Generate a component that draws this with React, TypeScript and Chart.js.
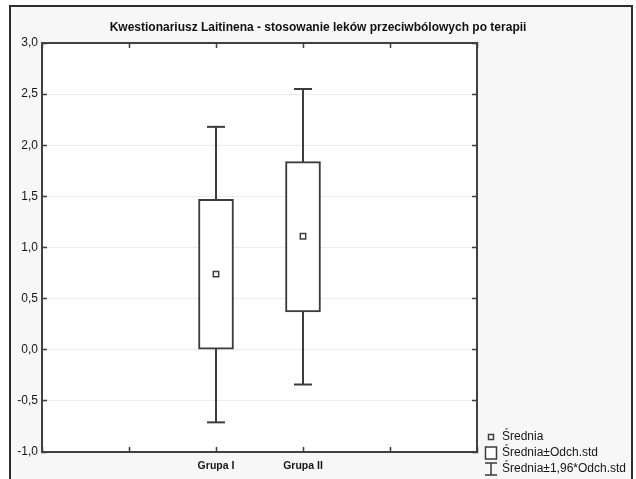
import React, { useEffect, useRef } from "react";
import { Chart, registerables } from "chart.js";

Chart.register(...registerables);

// Groups and their summary statistics (mean, mean ± SD, mean ± 1.96·SD)
const groups = ["Grupa I", "Grupa II"];
const means = [0.74, 1.11];
const sdLow = [0.0, 0.37];
const sdHigh = [1.47, 1.84];
const ciLow = [-0.71, -0.34];
const ciHigh = [2.18, 2.55];

// Category slots along the x axis: two empty slots on each side of the groups
const xSlots = ["", "", ...groups, "", ""];

const yMin = -1;
const yMax = 3;
const yStep = 0.5;

const titleText =
  "Kwestionariusz Laitinena - stosowanie leków przeciwbólowych po terapii";
const legendLabels = ["Średnia", "Średnia±Odch.std", "Średnia±1,96*Odch.std"];

const FONT = "'Liberation Sans', Arial, Helvetica, sans-serif";
const INK = "#3c3c3c";
const FRAME = "#404040";

const fmt = (v: number) => v.toFixed(1).replace(".", ",");

// White plot area on the grey panel
const plotBackground = {
  id: "plotBackground",
  beforeDraw(chart: any) {
    const { ctx, chartArea: a } = chart;
    ctx.save();
    ctx.fillStyle = "#ffffff";
    ctx.fillRect(a.left, a.top, a.right - a.left, a.bottom - a.top);
    ctx.restore();
  },
};

// Statistica-style legend in the lower right corner
const sideLegend = {
  id: "sideLegend",
  afterDraw(chart: any) {
    const { ctx, chartArea: a } = chart;
    const symX = a.right + 14;
    const textX = a.right + 25;
    const rows = [a.bottom - 15, a.bottom + 1, a.bottom + 17];
    ctx.save();
    ctx.strokeStyle = INK;
    ctx.fillStyle = "#ffffff";

    // mean marker
    ctx.lineWidth = 1.5;
    ctx.beginPath();
    ctx.rect(symX - 2.5, rows[0] - 2.5, 5, 5);
    ctx.fill();
    ctx.stroke();

    // box
    ctx.lineWidth = 1.5;
    ctx.beginPath();
    ctx.rect(symX - 5.5, rows[1] - 6, 11, 12);
    ctx.fill();
    ctx.stroke();

    // whisker
    ctx.beginPath();
    ctx.moveTo(symX - 6, rows[2] - 6);
    ctx.lineTo(symX + 6, rows[2] - 6);
    ctx.moveTo(symX, rows[2] - 6);
    ctx.lineTo(symX, rows[2] + 6);
    ctx.moveTo(symX - 6, rows[2] + 6);
    ctx.lineTo(symX + 6, rows[2] + 6);
    ctx.stroke();

    ctx.fillStyle = "#151515";
    ctx.font = `12px ${FONT}`;
    ctx.textBaseline = "middle";
    ctx.textAlign = "left";
    legendLabels.forEach((t, i) => ctx.fillText(t, textX, rows[i]));
    ctx.restore();
  },
};

export default function App() {
  const canvasRef = useRef<HTMLCanvasElement | null>(null);

  useEffect(() => {
    if (!canvasRef.current) return;

    const whiskerSets = groups.map((g, i) => ({
      type: "line" as const,
      data: [
        { x: g, y: ciLow[i] },
        { x: g, y: ciHigh[i] },
      ],
      borderColor: INK,
      borderWidth: 2,
      pointStyle: "line" as const,
      pointRadius: 9,
      pointHoverRadius: 9,
      pointBorderWidth: 2,
      pointBorderColor: INK,
      order: 3,
    }));

    const boxData = xSlots.map((s) => {
      const i = groups.indexOf(s);
      return i >= 0 && s !== "" ? [sdLow[i], sdHigh[i]] : null;
    });

    const chart = new Chart(canvasRef.current, {
      type: "bar",
      data: {
        labels: xSlots,
        datasets: [
          ...whiskerSets,
          {
            type: "bar" as const,
            data: boxData as any,
            backgroundColor: "#ffffff",
            borderColor: INK,
            borderWidth: 2,
            borderSkipped: false,
            barThickness: 35,
            order: 2,
          },
          {
            type: "line" as const,
            data: groups.map((g, i) => ({ x: g, y: means[i] })),
            showLine: false,
            pointStyle: "rect" as const,
            pointRadius: 3.8,
            pointHoverRadius: 3.8,
            pointBackgroundColor: "#ffffff",
            pointBorderColor: INK,
            pointBorderWidth: 1.5,
            order: 1,
          },
        ] as any,
      },
      options: {
        responsive: false,
        animation: false,
        events: [],
        layout: { padding: 0 },
        plugins: {
          legend: { display: false },
          tooltip: { enabled: false },
          title: {
            display: true,
            text: titleText,
            color: "#111111",
            font: { family: FONT, size: 12, weight: "bold" },
            padding: { top: 20, bottom: 8.6 },
          },
        },
        scales: {
          x: {
            type: "category",
            position: "bottom",
            offset: false,
            grid: {
              offset: false,
              drawOnChartArea: false,
              drawTicks: true,
              tickLength: -5,
              tickColor: INK,
              tickWidth: 1.5,
            },
            border: { display: true, color: FRAME, width: 2 },
            ticks: {
              autoSkip: false,
              maxRotation: 0,
              padding: 13,
              color: "#151515",
              font: { family: FONT, size: 10.5, weight: "bold" },
            },
            afterFit: (s: any) => {
              s.height = 27;
            },
          },
          xTop: {
            type: "category",
            position: "top",
            offset: false,
            grid: {
              offset: false,
              drawOnChartArea: false,
              drawTicks: true,
              tickLength: -5,
              tickColor: INK,
              tickWidth: 1.5,
            },
            border: { display: true, color: FRAME, width: 2 },
            ticks: { display: false },
            afterFit: (s: any) => {
              s.height = 0;
            },
          },
          y: {
            type: "linear",
            position: "left",
            min: yMin,
            max: yMax,
            grid: {
              color: "#ececec",
              lineWidth: 1,
              drawTicks: true,
              tickLength: -5,
              tickColor: INK,
              tickWidth: 1.5,
            },
            border: { display: true, color: FRAME, width: 2 },
            ticks: {
              stepSize: yStep,
              padding: 9,
              color: "#151515",
              font: { family: FONT, size: 12 },
              callback: (v: any) => fmt(Number(v)),
            },
            afterFit: (s: any) => {
              s.width = 42;
            },
          },
          yRight: {
            type: "linear",
            position: "right",
            min: yMin,
            max: yMax,
            grid: {
              drawOnChartArea: false,
              drawTicks: true,
              tickLength: -5,
              tickColor: INK,
              tickWidth: 1.5,
            },
            border: { display: true, color: FRAME, width: 2 },
            ticks: { display: false, stepSize: yStep },
            afterFit: (s: any) => {
              s.width = 159;
            },
          },
        },
      } as any,
      plugins: [plotBackground, sideLegend],
    });

    return () => chart.destroy();
  }, []);

  return (
    <div
      style={{
        position: "absolute",
        left: 0,
        top: 0,
        width: 636,
        height: 479,
        overflow: "hidden",
        background: "#ffffff",
      }}
    >
      <div
        style={{
          position: "absolute",
          left: 9,
          top: 5,
          width: 624,
          height: 474,
          boxSizing: "border-box",
          border: "2px solid #2e2e2e",
          borderBottom: "none",
          background: "#f7f7f7",
        }}
      />
      <canvas
        ref={canvasRef}
        width={636}
        height={479}
        style={{ position: "absolute", left: 0, top: 0 }}
      />
    </div>
  );
}
